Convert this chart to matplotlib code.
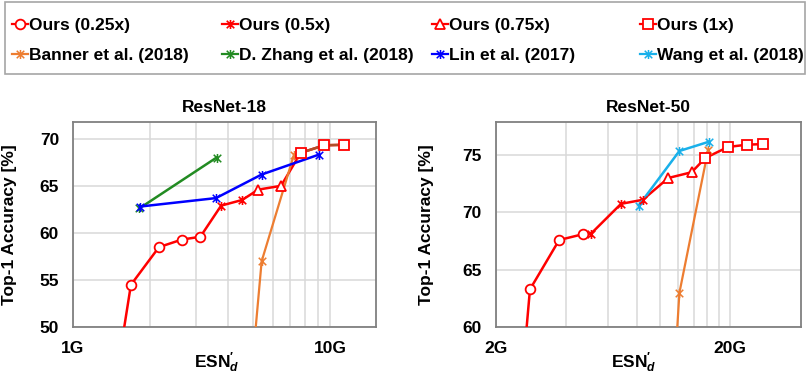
import numpy as np
import matplotlib
matplotlib.use('Agg')
import matplotlib.pyplot as plt
from matplotlib.lines import Line2D
from matplotlib.path import Path
from matplotlib.patches import Rectangle

plt.rcParams['font.family'] = ['Liberation Sans', 'DejaVu Sans']
plt.rcParams['font.weight'] = 'bold'
plt.rcParams['mathtext.fontset'] = 'custom'
plt.rcParams['mathtext.rm'] = 'Liberation Sans:bold'
plt.rcParams['mathtext.it'] = 'Liberation Sans:italic:bold'
plt.rcParams['mathtext.bf'] = 'Liberation Sans:bold'

G = 1e9

# ---------------- ResNet-18 (ESN'd in G, top-1 %) ----------------
r18_ours025_x = [1.48, 1.68, 2.16, 2.65, 3.13]
r18_ours025_y = [45.0, 54.5, 58.5, 59.3, 59.6]
r18_ours05_x = [3.77, 4.55]
r18_ours05_y = [62.9, 63.5]
r18_ours075_x = [5.26, 6.45]
r18_ours075_y = [64.6, 65.0]
r18_ours1_x = [7.69, 9.5, 11.3]
r18_ours1_y = [68.5, 69.3, 69.35]
r18_banner_x = [4.95, 5.42, 7.24]
r18_banner_y = [45.0, 57.0, 68.3]
r18_zhang_x = [1.81, 3.62]
r18_zhang_y = [62.6, 68.0]
r18_lin_x = [1.82, 3.6, 5.42, 9.03]
r18_lin_y = [62.8, 63.7, 66.2, 68.3]

# ---------------- ResNet-50 ----------------
r50_ours025_x = [2.58, 2.80, 3.73, 4.70]
r50_ours025_y = [55.0, 63.3, 67.6, 68.1]
r50_ours05_x = [5.10, 6.85, 8.48]
r50_ours05_y = [68.15, 70.75, 71.1]
r50_ours075_x = [10.9, 13.7]
r50_ours075_y = [73.0, 73.5]
r50_ours1_x = [15.7, 19.6, 23.6, 27.6]
r50_ours1_y = [74.75, 75.7, 75.9, 75.95]
r50_banner_x = [11.5, 12.15, 16.1]
r50_banner_y = [55.0, 63.0, 75.4]
r50_wang_x = [8.15, 12.15, 16.2]
r50_wang_y = [70.6, 75.35, 76.15]

labels = ['Ours (0.25x)', 'Ours (0.5x)', 'Ours (0.75x)', 'Ours (1x)',
          'Banner et al. (2018)', 'D. Zhang et al. (2018)', 'Lin et al. (2017)', 'Wang et al. (2018)']

RED = '#ff0000'
ORANGE = '#ed7d31'
GREEN = '#228b22'
BLUE = '#0000ff'
CYAN = '#19b0ea'

# excel style "star": an x with a vertical bar
star = Path([(-1, -1), (1, 1), (-1, 1), (1, -1), (0, -1.2), (0, 1.2)],
            [Path.MOVETO, Path.LINETO, Path.MOVETO, Path.LINETO, Path.MOVETO, Path.LINETO])

styles = {
    labels[0]: dict(color=RED, marker='o', mfc='white', mec=RED, ms=7, mew=1.3),
    labels[1]: dict(color=RED, marker=star, mfc='none', mec=RED, ms=6.5, mew=1.2),
    labels[2]: dict(color=RED, marker='^', mfc='white', mec=RED, ms=7, mew=1.3),
    labels[3]: dict(color=RED, marker='s', mfc='white', mec=RED, ms=7, mew=1.3),
    labels[4]: dict(color=ORANGE, marker=star, mfc='none', mec=ORANGE, ms=6.5, mew=1.1),
    labels[5]: dict(color=GREEN, marker=star, mfc='none', mec=GREEN, ms=6.5, mew=1.1),
    labels[6]: dict(color=BLUE, marker=star, mfc='none', mec=BLUE, ms=6.5, mew=1.1),
    labels[7]: dict(color=CYAN, marker=star, mfc='none', mec=CYAN, ms=6.5, mew=1.1),
}
LW = 1.8

fig = plt.figure(figsize=(8.09, 3.75), dpi=100)
ax1 = fig.add_axes([73 / 809, 1 - 327.3 / 375, 303 / 809, 205.6 / 375])
ax2 = fig.add_axes([495.7 / 809, 1 - 327.3 / 375, 305 / 809, 205.6 / 375])


def gx(v):
    return np.asarray(v) * G


def draw_ours(ax, parts, seg_color=None):
    allx = np.concatenate([p[0] for p in parts])
    ally = np.concatenate([p[1] for p in parts])
    ax.plot(gx(allx), ally, color=RED, lw=LW, zorder=3)
    for i, (xs, ys) in enumerate(parts):
        st = dict(styles[labels[i]])
        if i == 3 and seg_color is not None:
            ax.plot(gx(xs), ys, color=seg_color, lw=LW, zorder=3)
        ax.plot(gx(xs), ys, ls='none', zorder=5, **{k: v for k, v in st.items() if k != 'color'})


draw_ours(ax1, [(r18_ours025_x, r18_ours025_y), (r18_ours05_x, r18_ours05_y),
                (r18_ours075_x, r18_ours075_y), (r18_ours1_x, r18_ours1_y)], seg_color='#b0502a')
ax1.plot(gx(r18_banner_x), r18_banner_y, lw=1.6, zorder=4, **styles[labels[4]])
ax1.plot(gx(r18_zhang_x), r18_zhang_y, lw=LW, zorder=4, **styles[labels[5]])
ax1.plot(gx(r18_lin_x), r18_lin_y, lw=LW, zorder=4, **styles[labels[6]])

draw_ours(ax2, [(r50_ours025_x, r50_ours025_y), (r50_ours05_x, r50_ours05_y),
                (r50_ours075_x, r50_ours075_y), (r50_ours1_x, r50_ours1_y)])
ax2.plot(gx(r50_banner_x), r50_banner_y, lw=1.6, zorder=4, **styles[labels[4]])
ax2.plot(gx(r50_wang_x), r50_wang_y, lw=LW, zorder=4, **styles[labels[7]])

# axes cosmetics
for ax, title, xl, yl, maj, majlab, minor, yt, xlab_x, ylab_x in [
        (ax1, 'ResNet-18', (1e9, 1.51e10), (50, 71.8), [1e9, 1e10], ['1G', '10G'],
         np.arange(2, 10) * G, [50, 55, 60, 65, 70], 0.475, -56 / 303),
        (ax2, 'ResNet-50', (2e9, 4.0e10), (60, 77.9), [2e9, 2e10], ['2G', '20G'],
         np.arange(4, 20, 2) * G, [60, 65, 70, 75], 0.453, -62 / 305)]:
    ax.set_xscale('log')
    ax.set_xlim(*xl)
    ax.set_ylim(*yl)
    ax.set_xticks(maj)
    ax.set_xticklabels(majlab)
    ax.set_xticks(minor, minor=True)
    ax.set_xticklabels([], minor=True)
    ax.set_yticks(yt)
    ax.tick_params(which='both', length=0, labelsize=12.5)
    ax.tick_params(axis='x', pad=10)
    ax.tick_params(axis='y', pad=10)
    ax.grid(True, which='major', color='#d9d9d9', lw=1.1, zorder=0)
    ax.grid(True, which='minor', axis='x', color='#d9d9d9', lw=1.1, zorder=0)
    ax.set_axisbelow(True)
    for sp in ax.spines.values():
        sp.set_color('#808080')
        sp.set_linewidth(1.3)
    ax.set_title(title, fontsize=12.5, fontweight='bold', pad=7)
    ax.set_xlabel(r'ESN$^{\prime}_{d}$', fontsize=12.5, fontweight='bold')
    ax.xaxis.set_label_coords(xlab_x, -0.115)
    ax.set_ylabel('Top-1 Accuracy [%]', fontsize=12.5, fontweight='bold')
    ax.yaxis.set_label_coords(ylab_x, 0.5)

# legend: frame plus four equally spaced columns
fig.patches.append(Rectangle((5 / 809, 1 - 74 / 375), 800 / 809, 72 / 375,
                             transform=fig.transFigure, fill=False,
                             edgecolor='#a6a6a6', lw=1.2))
col_x = [12, 222, 432, 640]
for c in range(4):
    hs = []
    for lab in (labels[c], labels[c + 4]):
        hs.append(Line2D([], [], lw=1.6, **styles[lab]))
    fig.legend(hs, [labels[c], labels[c + 4]], loc='center left',
               bbox_to_anchor=(col_x[c] / 809, 1 - 40.5 / 375), frameon=False,
               borderpad=0, borderaxespad=0, handlelength=0.9, handletextpad=0.1,
               labelspacing=0.85, prop=dict(size=12.5, weight='bold'))

fig.savefig('out.png', dpi=100)
